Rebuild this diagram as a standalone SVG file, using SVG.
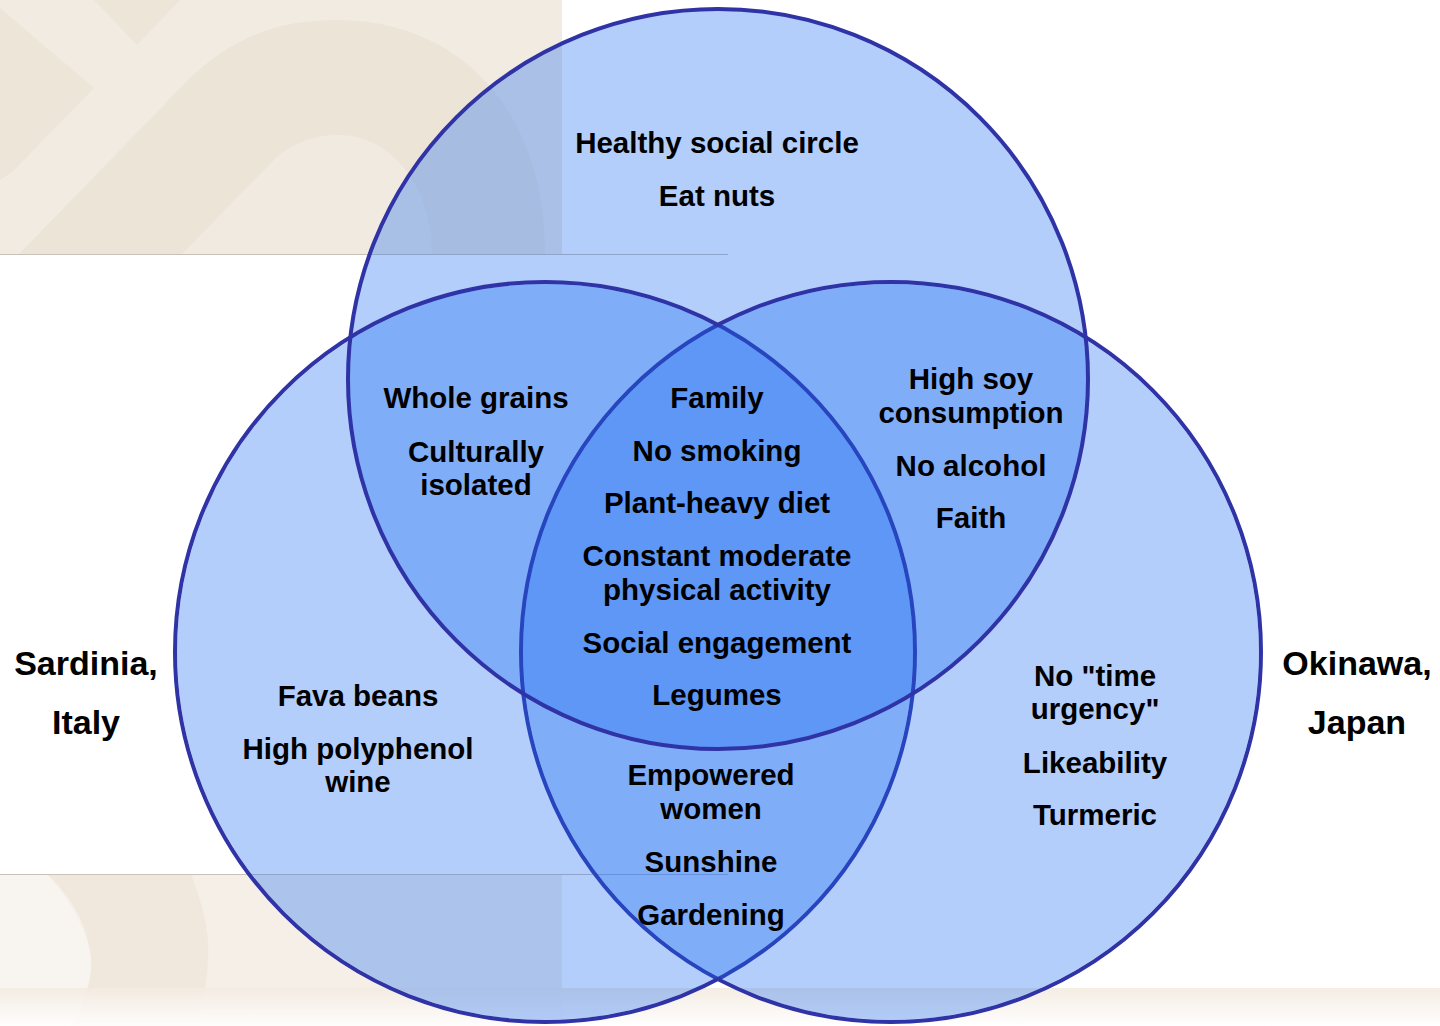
<svg xmlns="http://www.w3.org/2000/svg" width="1440" height="1026" viewBox="0 0 1440 1026">
  <style>
    .lbl { font-family: "Liberation Sans", Arial, sans-serif; font-weight: bold; font-size: 29.5px; fill: #000; text-anchor: middle; }
    .place { font-family: "Liberation Sans", Arial, sans-serif; font-weight: bold; font-size: 34px; fill: #000; text-anchor: middle; }
    .ring { fill: none; stroke: #2f33a6; stroke-width: 4; }
    .disc { fill: rgb(24,106,243); fill-opacity: 0.33; }
  </style>
  <defs>
    <linearGradient id="floorFade" x1="0" y1="0" x2="0" y2="1">
      <stop offset="0" stop-color="#f3ebe1"/>
      <stop offset="0.7" stop-color="#fbf8f5"/>
      <stop offset="1" stop-color="#ffffff"/>
    </linearGradient>
  </defs>

  <!-- page background -->
  <rect x="0" y="0" width="1440" height="1026" fill="#ffffff"/>

  <!-- top-left decorative panel -->
  <g id="panel-top">
    <rect x="0" y="0" width="562" height="254" fill="#f2ebe1"/>
    <polygon points="0,8 94,88 12,172 0,180" fill="#eee5d9"/>
    <polygon points="94,0 180,0 137,45" fill="#eee5d9"/>
    <path d="M19,254 L190,78 C240,30 290,20 337,20 C460,20 545,110 545,254 Z" fill="#ede4d8"/>
    <path d="M182,254 L272,162 C290,143 315,135 337,135 C395,135 432,190 432,254 Z" fill="#f1eae0"/>
    <line x1="0" y1="254.5" x2="728" y2="254.5" stroke="#c9c2ba" stroke-width="1"/>
  </g>

  <!-- bottom-left decorative panel -->
  <g id="panel-bottom">
    <rect x="0" y="874" width="562" height="152" fill="#f5efe8"/>
    <path d="M0,874 L47,874 C80,910 95,950 90,975 C86,1000 78,1015 71,1026 L0,1026 Z" fill="#f8f5f1"/>
    <path d="M47,874 L191,874 C205,910 210,940 208,960 C206,990 202,1010 198,1026 L71,1026 C85,1005 95,975 90,950 C85,920 70,895 47,874 Z" fill="#f1e8dd"/>
    <rect x="0" y="988" width="1440" height="38" fill="url(#floorFade)" opacity="0.9"/>
    <line x1="0" y1="874.5" x2="728" y2="874.5" stroke="#c9c2ba" stroke-width="1"/>
  </g>

  <!-- Venn circles: top fill, side outlines, side fills, top outline -->
  <g id="venn">
    <circle id="circle-top-fill" class="disc" cx="718" cy="379" r="370"/>
    <circle id="circle-left-ring" class="ring" cx="545" cy="652" r="370"/>
    <circle id="circle-right-ring" class="ring" cx="891" cy="652" r="370"/>
    <circle id="circle-left-fill" class="disc" cx="545" cy="652" r="368"/>
    <circle id="circle-right-fill" class="disc" cx="891" cy="652" r="368"/>
    <circle id="circle-top-ring" class="ring" cx="718" cy="379" r="370"/>
  </g>

  <!-- region labels -->
  <g id="top-only">
    <text class="lbl" x="717" y="153">Healthy social circle</text>
    <text class="lbl" x="717" y="206">Eat nuts</text>
  </g>
  <g id="top-left">
    <text class="lbl" x="476" y="408">Whole grains</text>
    <text class="lbl" x="476" y="462">Culturally</text>
    <text class="lbl" x="476" y="495">isolated</text>
  </g>
  <g id="all-three">
    <text class="lbl" x="717" y="408">Family</text>
    <text class="lbl" x="717" y="461">No smoking</text>
    <text class="lbl" x="717" y="513">Plant-heavy diet</text>
    <text class="lbl" x="717" y="566">Constant moderate</text>
    <text class="lbl" x="717" y="600">physical activity</text>
    <text class="lbl" x="717" y="653">Social engagement</text>
    <text class="lbl" x="717" y="705">Legumes</text>
  </g>
  <g id="top-right">
    <text class="lbl" x="971" y="389">High soy</text>
    <text class="lbl" x="971" y="423">consumption</text>
    <text class="lbl" x="971" y="476">No alcohol</text>
    <text class="lbl" x="971" y="528">Faith</text>
  </g>
  <g id="left-only">
    <text class="lbl" x="358" y="706">Fava beans</text>
    <text class="lbl" x="358" y="759">High polyphenol</text>
    <text class="lbl" x="358" y="792">wine</text>
  </g>
  <g id="left-right">
    <text class="lbl" x="711" y="785">Empowered</text>
    <text class="lbl" x="711" y="819">women</text>
    <text class="lbl" x="711" y="872">Sunshine</text>
    <text class="lbl" x="711" y="925">Gardening</text>
  </g>
  <g id="right-only">
    <text class="lbl" x="1095" y="686">No "time</text>
    <text class="lbl" x="1095" y="719">urgency"</text>
    <text class="lbl" x="1095" y="773">Likeability</text>
    <text class="lbl" x="1095" y="825">Turmeric</text>
  </g>

  <!-- set names -->
  <g id="sardinia">
    <text class="place" x="86" y="675">Sardinia,</text>
    <text class="place" x="86" y="734">Italy</text>
  </g>
  <g id="okinawa">
    <text class="place" x="1357" y="675">Okinawa,</text>
    <text class="place" x="1357" y="734">Japan</text>
  </g>
</svg>
